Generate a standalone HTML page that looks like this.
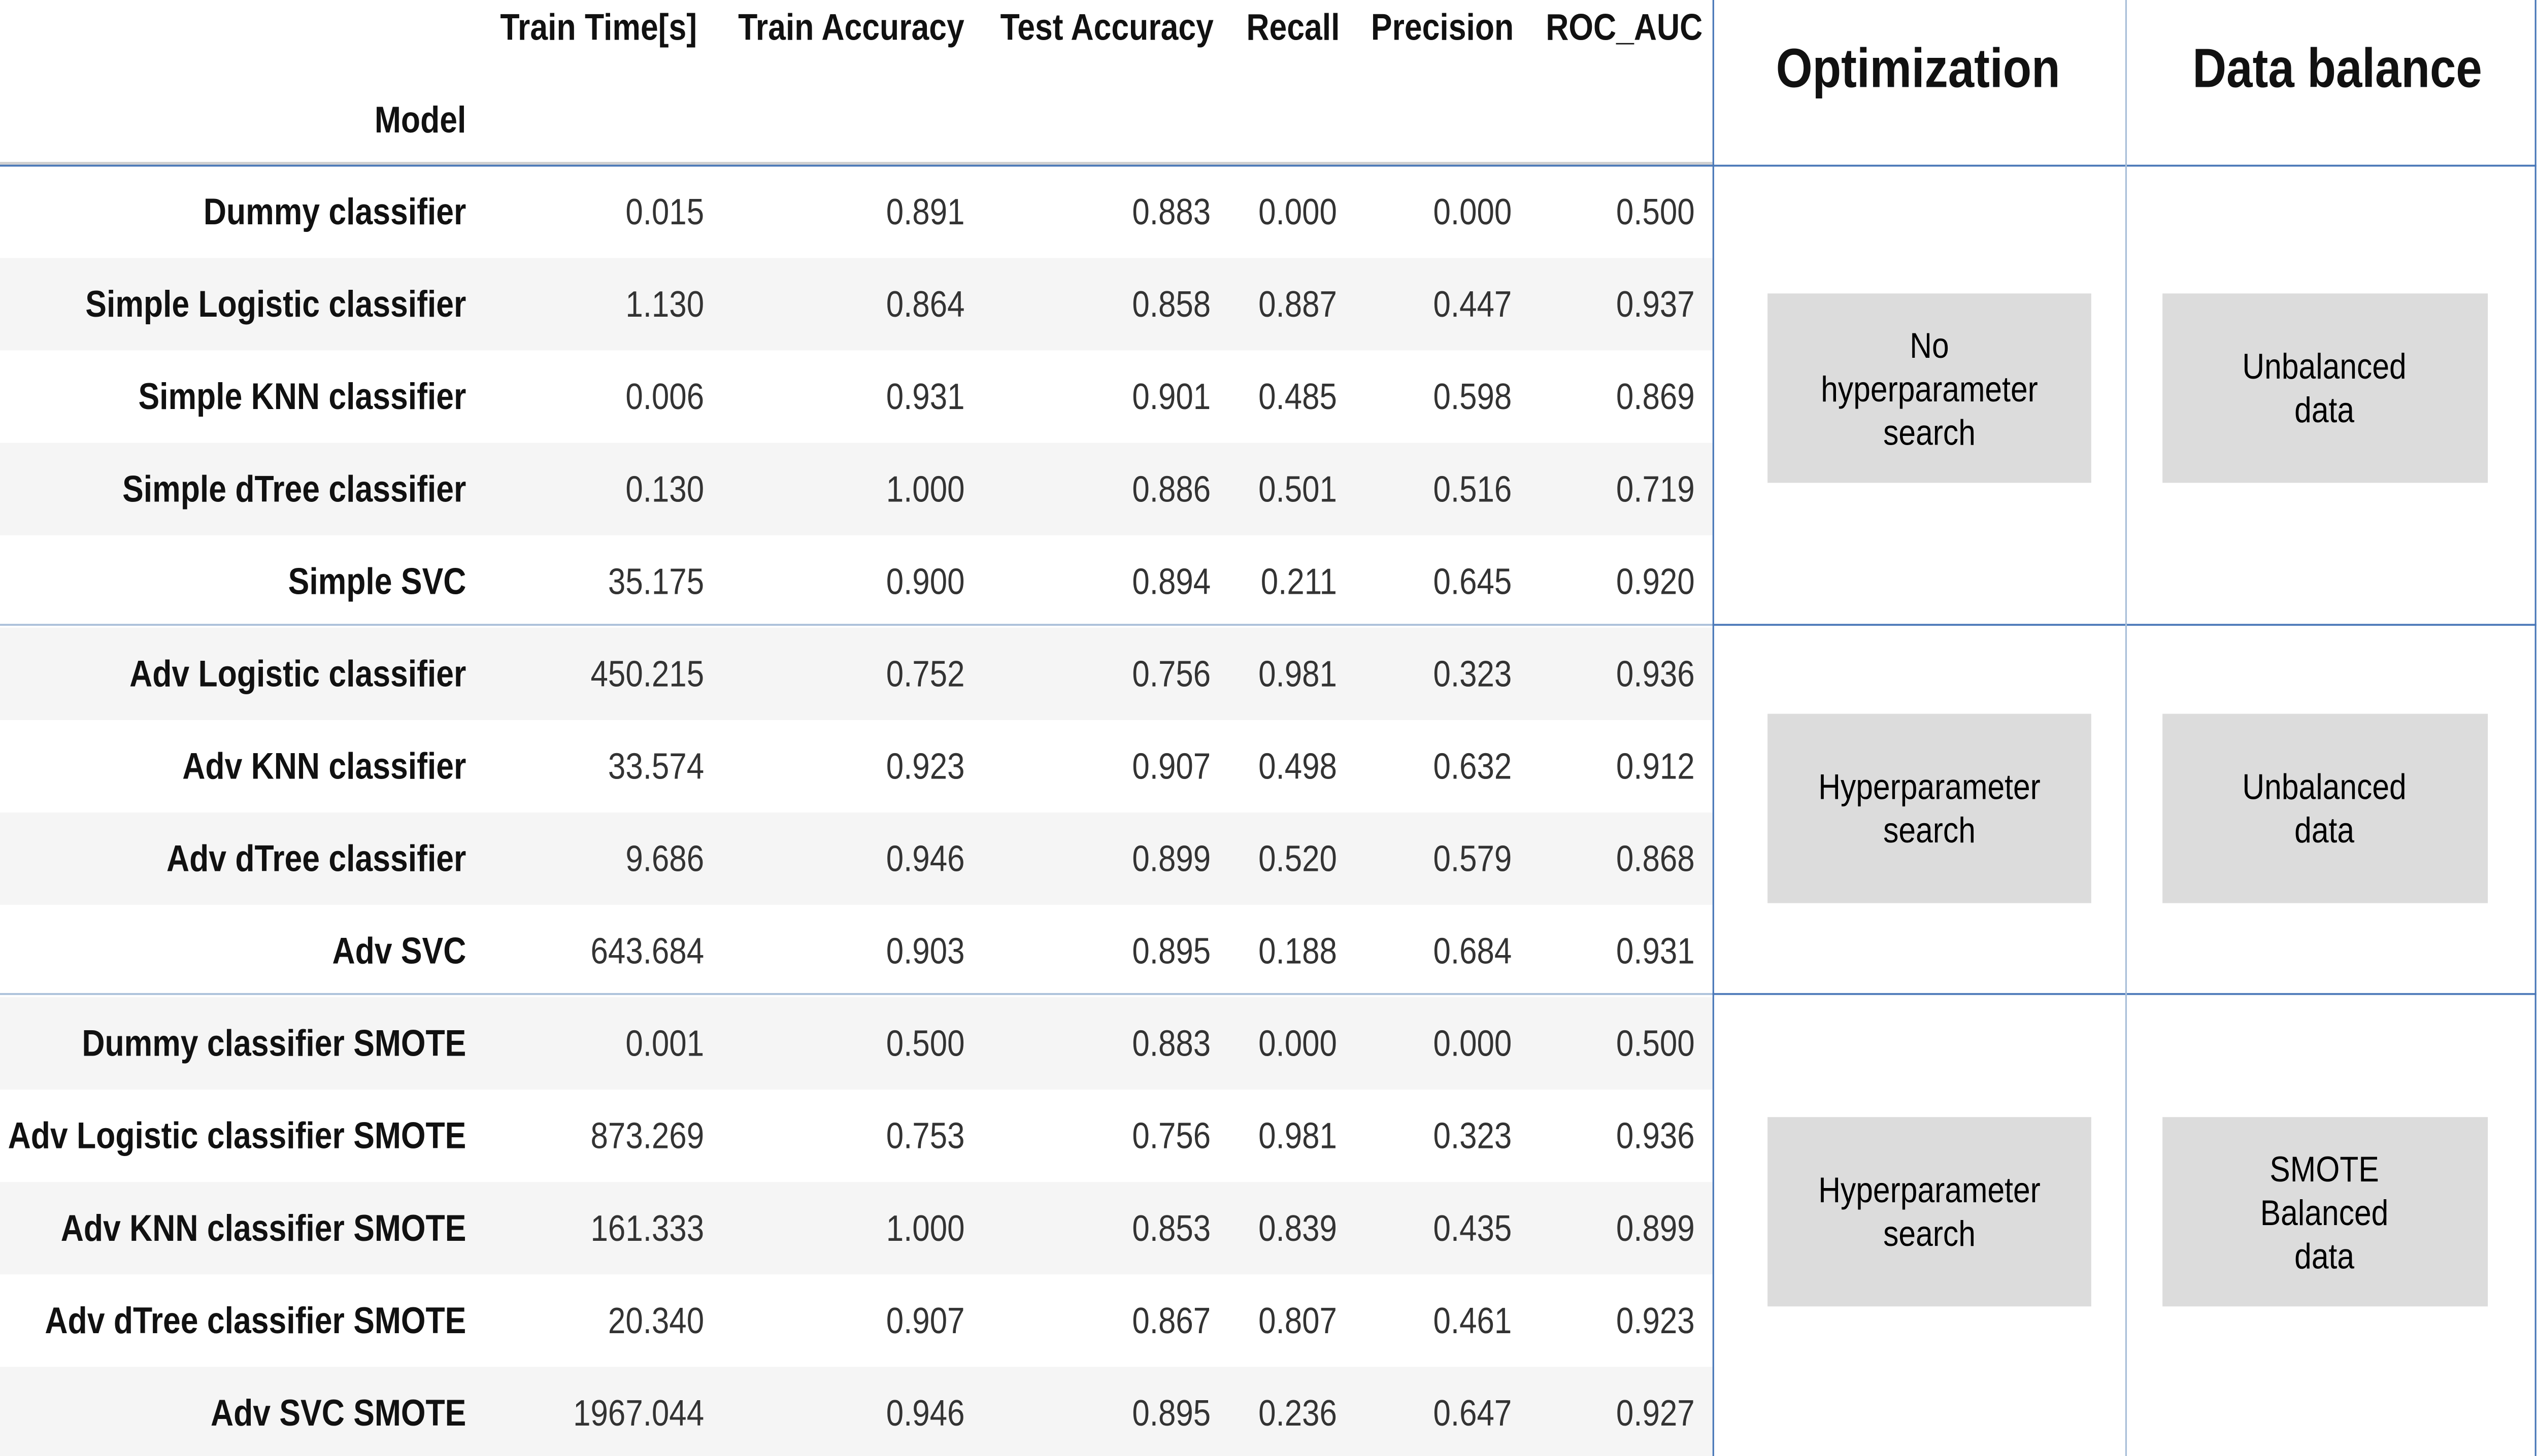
<!DOCTYPE html>
<html><head><meta charset="utf-8">
<style>
html,body{margin:0;padding:0;background:#fff;width:100%;height:100%;overflow:hidden}
svg{display:block;width:100vw;height:100vh;font-family:"Liberation Sans",sans-serif}
.h{font-weight:bold;font-size:19.6px;fill:#111}
.c{font-size:19.4px;fill:#333;text-anchor:end}
.m{font-size:19.6px;font-weight:bold;fill:#111;text-anchor:end}
.bt{font-size:19px;fill:#000;text-anchor:middle}
</style></head><body>
<svg id="s" viewBox="0 0 1568 769" preserveAspectRatio="none">
<g id="rows"></g>
<text class="h" x="309" y="21">Train Time[s]</text>
<text class="h" x="456" y="21">Train Accuracy</text>
<text class="h" x="618" y="21">Test Accuracy</text>
<text class="h" x="770" y="21">Recall</text>
<text class="h" x="847" y="21">Precision</text>
<text class="h" x="955" y="21">ROC_AUC</text>
<text class="h" x="288" y="70" text-anchor="end">Model</text>
<text class="h" x="1185" y="46" text-anchor="middle" style="font-size:29px">Optimization</text>
<text class="h" x="1444" y="46" text-anchor="middle" style="font-size:29px">Data balance</text>
<rect x="0" y="85.5" width="1058" height="2" fill="#d0d0d0"/>
<rect x="0" y="87" width="1567" height="1" fill="#4a78b8"/>
<rect x="0" y="329.5" width="1058" height="1" fill="#a9bfd9"/>
<rect x="1058" y="329.5" width="509" height="1" fill="#4a78b8"/>
<rect x="0" y="524.5" width="1058" height="1" fill="#a9bfd9"/>
<rect x="1058" y="524.5" width="509" height="1" fill="#4a78b8"/>
<rect x="1058" y="0" width="1" height="769" fill="#4a78b8"/>
<rect x="1313" y="0" width="1" height="769" fill="#a9bfd9"/>
<rect x="1566" y="0" width="1" height="769" fill="#4a78b8"/>
<g><rect x="1092" y="155" width="200" height="100" fill="#dcdcdc"/>
<text class="bt" x="1192" y="189">No</text><text class="bt" x="1192" y="212">hyperparameter</text><text class="bt" x="1192" y="235">search</text></g>
<g><rect x="1336" y="155" width="201" height="100" fill="#dcdcdc"/>
<text class="bt" x="1436" y="200">Unbalanced</text><text class="bt" x="1436" y="223">data</text></g>
<g><rect x="1092" y="377" width="200" height="100" fill="#dcdcdc"/>
<text class="bt" x="1192" y="422">Hyperparameter</text><text class="bt" x="1192" y="445">search</text></g>
<g><rect x="1336" y="377" width="201" height="100" fill="#dcdcdc"/>
<text class="bt" x="1436" y="422">Unbalanced</text><text class="bt" x="1436" y="445">data</text></g>
<g><rect x="1092" y="590" width="200" height="100" fill="#dcdcdc"/>
<text class="bt" x="1192" y="635">Hyperparameter</text><text class="bt" x="1192" y="658">search</text></g>
<g><rect x="1336" y="590" width="201" height="100" fill="#dcdcdc"/>
<text class="bt" x="1436" y="624">SMOTE</text><text class="bt" x="1436" y="647">Balanced</text><text class="bt" x="1436" y="670">data</text></g>
</svg>
<script>
const models=["Dummy classifier","Simple Logistic classifier","Simple KNN classifier","Simple dTree classifier","Simple SVC","Adv Logistic classifier","Adv KNN classifier","Adv dTree classifier","Adv SVC","Dummy classifier SMOTE","Adv Logistic classifier SMOTE","Adv KNN classifier SMOTE","Adv dTree classifier SMOTE","Adv SVC SMOTE"];
const trainTime=["0.015","1.130","0.006","0.130","35.175","450.215","33.574","9.686","643.684","0.001","873.269","161.333","20.340","1967.044"];
const trainAcc=["0.891","0.864","0.931","1.000","0.900","0.752","0.923","0.946","0.903","0.500","0.753","1.000","0.907","0.946"];
const testAcc=["0.883","0.858","0.901","0.886","0.894","0.756","0.907","0.899","0.895","0.883","0.756","0.853","0.867","0.895"];
const recall=["0.000","0.887","0.485","0.501","0.211","0.981","0.498","0.520","0.188","0.000","0.981","0.839","0.807","0.236"];
const precision=["0.000","0.447","0.598","0.516","0.645","0.323","0.632","0.579","0.684","0.000","0.323","0.435","0.461","0.647"];
const roc=["0.500","0.937","0.869","0.719","0.920","0.936","0.912","0.868","0.931","0.500","0.936","0.899","0.923","0.927"];
const cols=[[trainTime,435,"train-time"],[trainAcc,596,"train-accuracy"],[testAcc,748,"test-accuracy"],[recall,826,"recall"],[precision,934,"precision"],[roc,1047,"roc-auc"]];
const NS="http://www.w3.org/2000/svg";
const host=document.getElementById('rows');
const rh=48.8, top0=87.5;
models.forEach((m,i)=>{
  const y=top0+rh*i;
  if(i%2===1){const s=document.createElementNS(NS,'rect');
  s.setAttribute('x',0);s.setAttribute('y',y);s.setAttribute('width',1058);s.setAttribute('height',rh);s.setAttribute('fill','#f5f5f5');
  
  
  host.appendChild(s);}
  const t=document.createElementNS(NS,'text');t.setAttribute('class','m');t.textContent=m;
  t.setAttribute('x',288);t.setAttribute('y',y+31);
  
  
  host.appendChild(t);
  cols.forEach(([arr,rx,nm])=>{
    const c=document.createElementNS(NS,'text');c.setAttribute('class','c');c.textContent=arr[i];
    c.setAttribute('x',rx);c.setAttribute('y',y+31);
    
    
    host.appendChild(c);
  });
});
</script>
</body></html>
